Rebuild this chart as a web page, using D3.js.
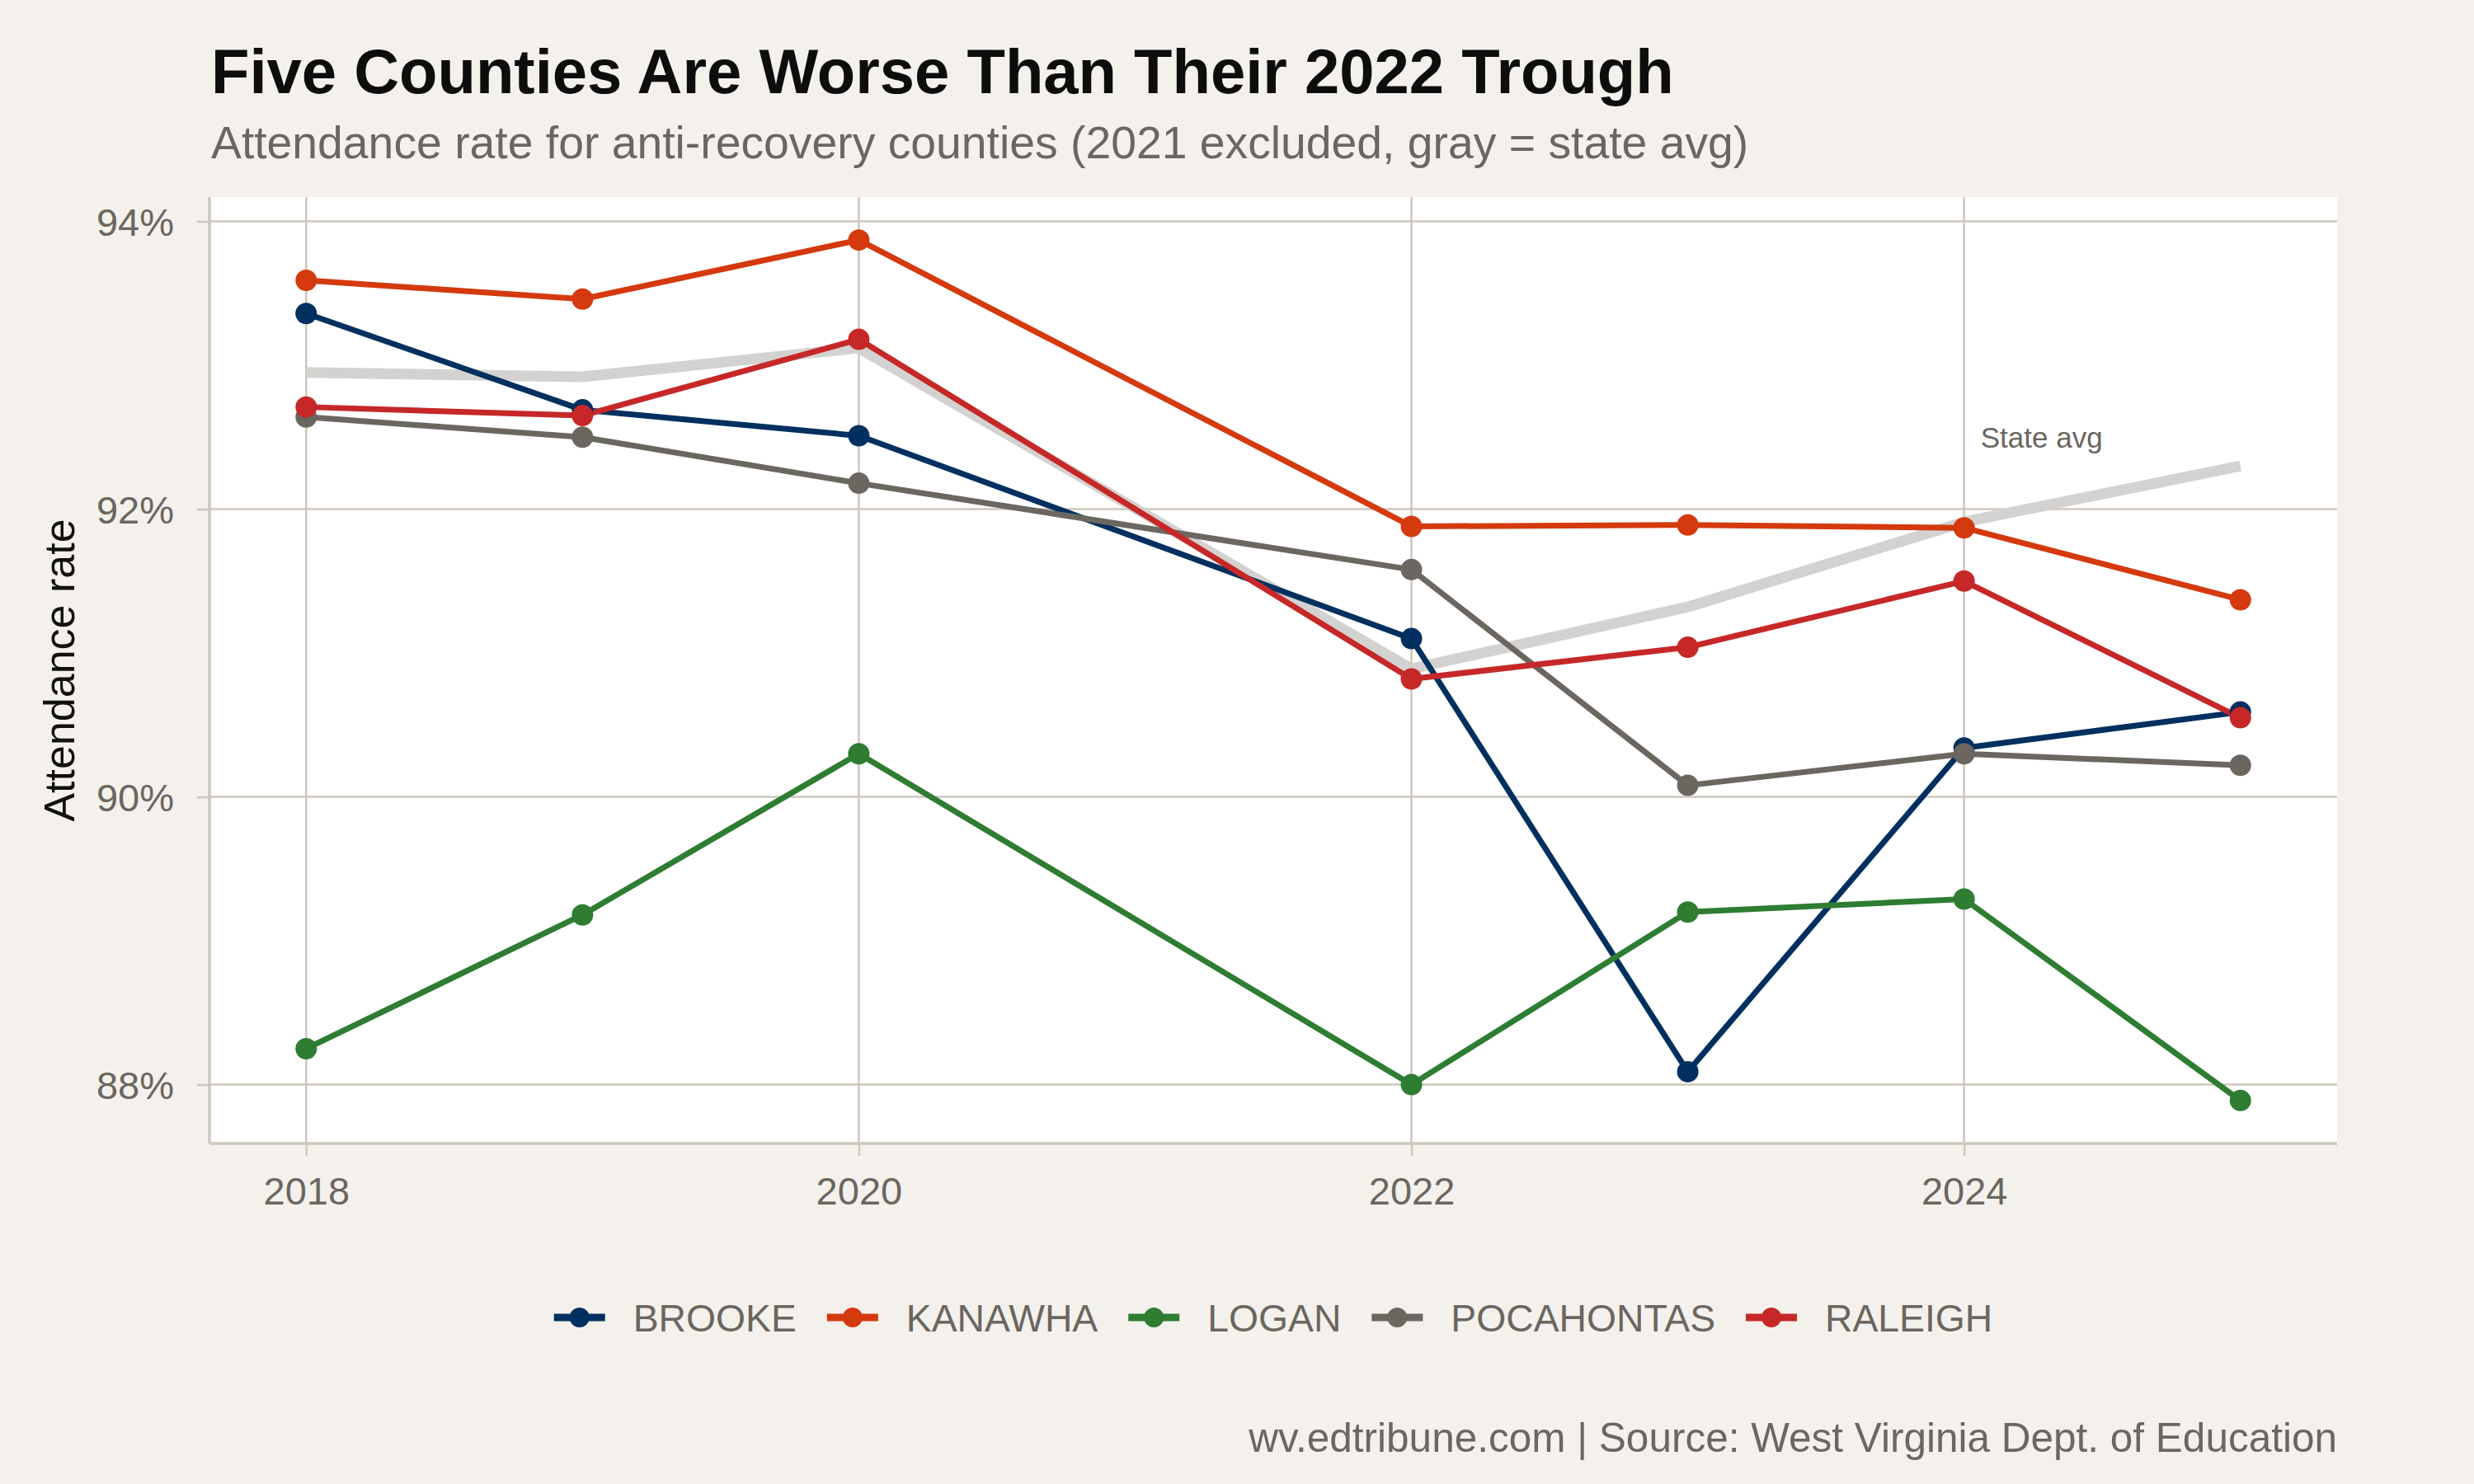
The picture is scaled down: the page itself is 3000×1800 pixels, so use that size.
<!DOCTYPE html>
<html>
<head>
<meta charset="utf-8">
<script src="https://cdn.jsdelivr.net/npm/d3@7"></script>
<style>
  html, body { margin: 0; padding: 0; background: #f4f1ec; }
  svg { display: block; font-family: "Liberation Sans", Arial, Helvetica, sans-serif; }
</style>
</head>
<body>
<svg id="chart" width="3000" height="1800"></svg>
<script>
// ---- data ----
const years = [2018, 2019, 2020, 2022, 2023, 2024, 2025];
const counties = ["BROOKE", "KANAWHA", "LOGAN", "POCAHONTAS", "RALEIGH"];
const brooke     = [93.36, 92.69, 92.51, 91.10, 88.09, 90.34, 90.59];
const kanawha    = [93.59, 93.46, 93.87, 91.88, 91.89, 91.87, 91.37];
const logan      = [88.25, 89.18, 90.30, 88.00, 89.20, 89.29, 87.89];
const pocahontas = [92.64, 92.50, 92.18, 91.58, 90.08, 90.30, 90.22];
const raleigh    = [92.71, 92.65, 93.18, 90.82, 91.04, 91.50, 90.55];
const stateAvg   = [92.95, 92.92, 93.12, 90.89, 91.32, 91.91, 92.30];
const seriesColors = ["#00305f", "#d43a0e", "#2e7d32", "#6b6660", "#c62828"];
const xTicks = [2018, 2020, 2022, 2024];
const yTicks = [88, 90, 92, 94];
const titleText = "Five Counties Are Worse Than Their 2022 Trough";
const subtitleText = "Attendance rate for anti-recovery counties (2021 excluded, gray = state avg)";
const captionText = "wv.edtribune.com | Source: West Virginia Dept. of Education";
const yAxisTitle = "Attendance rate";
const stateLabel = {text: "State avg", year: 2024.06, value: 92.5};

const seriesValues = [brooke, kanawha, logan, pocahontas, raleigh];

// ---- layout ----
const W = 3000, H = 1800;
const panel = {left: 254, right: 2834, top: 239, bottom: 1387};
const textGray = "#6b6660";
const gridColor = "#cec7bd";

const svg = d3.select("#chart");
svg.append("rect").attr("width", W).attr("height", H).attr("fill", "#f4f1ec");

// scales with ggplot-like 5% expansion
const allVals = seriesValues.flat().concat(stateAvg);
const [vmin, vmax] = d3.extent(allVals);
const vpad = (vmax - vmin) * 0.05;
const xpad = (d3.max(years) - d3.min(years)) * 0.05;
const x = d3.scaleLinear().domain([d3.min(years) - xpad, d3.max(years) + xpad]).range([panel.left, panel.right]);
const y = d3.scaleLinear().domain([vmin - vpad, vmax + vpad]).range([panel.bottom, panel.top]);

// panel background
svg.append("rect")
  .attr("x", panel.left).attr("y", panel.top)
  .attr("width", panel.right - panel.left).attr("height", panel.bottom - panel.top)
  .attr("fill", "#ffffff");

// gridlines
const grid = svg.append("g");
grid.selectAll(".gx").data(xTicks).join("line")
  .attr("x1", d => x(d)).attr("x2", d => x(d))
  .attr("y1", panel.top).attr("y2", panel.bottom)
  .attr("stroke", gridColor).attr("stroke-width", 2.5);
grid.selectAll(".gy").data(yTicks).join("line")
  .attr("x1", panel.left).attr("x2", panel.right)
  .attr("y1", d => y(d)).attr("y2", d => y(d))
  .attr("stroke", gridColor).attr("stroke-width", 2.5);

// axes
const xAxis = d3.axisBottom(x).tickValues(xTicks).tickFormat(d3.format("d")).tickSize(15).tickPadding(26);
const yAxis = d3.axisLeft(y).tickValues(yTicks).tickFormat(d => d + "%").tickSize(15).tickPadding(28);

const gx = svg.append("g").attr("transform", `translate(0,${panel.bottom})`).call(xAxis);
const gy = svg.append("g").attr("transform", `translate(${panel.left},0)`).call(yAxis);
[gx, gy].forEach(g => {
  g.select(".domain").remove();
  g.selectAll(".tick line").attr("stroke", gridColor).attr("stroke-width", 2.5);
  g.selectAll(".tick text").attr("fill", textGray).attr("font-size", 47)
    .attr("font-family", "Liberation Sans, Arial, sans-serif");
});
gx.selectAll(".tick text").attr("dy", "0.71em");
gy.selectAll(".tick text").attr("dy", "0.36em");

// axis lines
svg.append("line").attr("x1", panel.left).attr("x2", panel.right)
  .attr("y1", panel.bottom).attr("y2", panel.bottom)
  .attr("stroke", gridColor).attr("stroke-width", 3.5);
svg.append("line").attr("x1", panel.left).attr("x2", panel.left)
  .attr("y1", panel.top).attr("y2", panel.bottom)
  .attr("stroke", gridColor).attr("stroke-width", 3.5);

// line generator
const line = d3.line().x(d => x(d[0])).y(d => y(d[1]));

// state average
svg.append("path")
  .datum(years.map((yr, i) => [yr, stateAvg[i]]))
  .attr("d", line)
  .attr("fill", "none").attr("stroke", "#d3d2d0").attr("stroke-width", 13)
  .attr("stroke-linejoin", "round");

svg.append("text")
  .attr("x", x(stateLabel.year)).attr("y", y(stateLabel.value))
  .attr("dy", "0.36em")
  .attr("font-size", 35).attr("fill", textGray)
  .text(stateLabel.text);

// county lines
const linesG = svg.append("g");
counties.forEach((c, k) => {
  linesG.append("path")
    .datum(years.map((yr, i) => [yr, seriesValues[k][i]]))
    .attr("d", line)
    .attr("fill", "none").attr("stroke", seriesColors[k]).attr("stroke-width", 7)
    .attr("stroke-linejoin", "round");
});
// points
const ptsG = svg.append("g");
counties.forEach((c, k) => {
  ptsG.selectAll(null).data(years.map((yr, i) => [yr, seriesValues[k][i]])).join("circle")
    .attr("cx", d => x(d[0])).attr("cy", d => y(d[1])).attr("r", 13)
    .attr("fill", seriesColors[k]);
});

// titles
svg.append("text").attr("x", 256).attr("y", 113)
  .attr("font-size", 76).attr("font-weight", "bold").attr("fill", "#0d0d0d")
  .text(titleText);
svg.append("text").attr("x", 256).attr("y", 192)
  .attr("font-size", 55.3).attr("fill", textGray)
  .text(subtitleText);

// y axis title
svg.append("text")
  .attr("transform", `translate(90,${(panel.top + panel.bottom) / 2}) rotate(-90)`)
  .attr("text-anchor", "middle")
  .attr("font-size", 52).attr("fill", "#111111")
  .text(yAxisTitle);

// caption
svg.append("text").attr("x", panel.right).attr("y", 1761)
  .attr("text-anchor", "end").attr("font-size", 49.5).attr("fill", textGray)
  .text(captionText);

// legend
const legendY = 1598;
const keyLen = 62, keyGap = 34, itemGap = 37;
const legend = svg.append("g");
const items = [];
counties.forEach((c, k) => {
  const g = legend.append("g");
  g.append("line").attr("x1", 0).attr("x2", keyLen).attr("y1", 0).attr("y2", 0)
    .attr("stroke", seriesColors[k]).attr("stroke-width", 9);
  g.append("circle").attr("cx", keyLen / 2).attr("cy", 0).attr("r", 12).attr("fill", seriesColors[k]);
  const t = g.append("text").attr("x", keyLen + keyGap).attr("y", 0).attr("dy", "0.36em")
    .attr("font-size", 46.3).attr("fill", textGray).text(c);
  const w = keyLen + keyGap + t.node().getComputedTextLength();
  items.push({g, w});
});
const totalW = d3.sum(items, d => d.w) + itemGap * (items.length - 1);
let startX = (panel.left + panel.right) / 2 - totalW / 2;
items.forEach(it => {
  it.g.attr("transform", `translate(${startX},${legendY})`);
  startX += it.w + itemGap;
});
</script>
</body>
</html>
